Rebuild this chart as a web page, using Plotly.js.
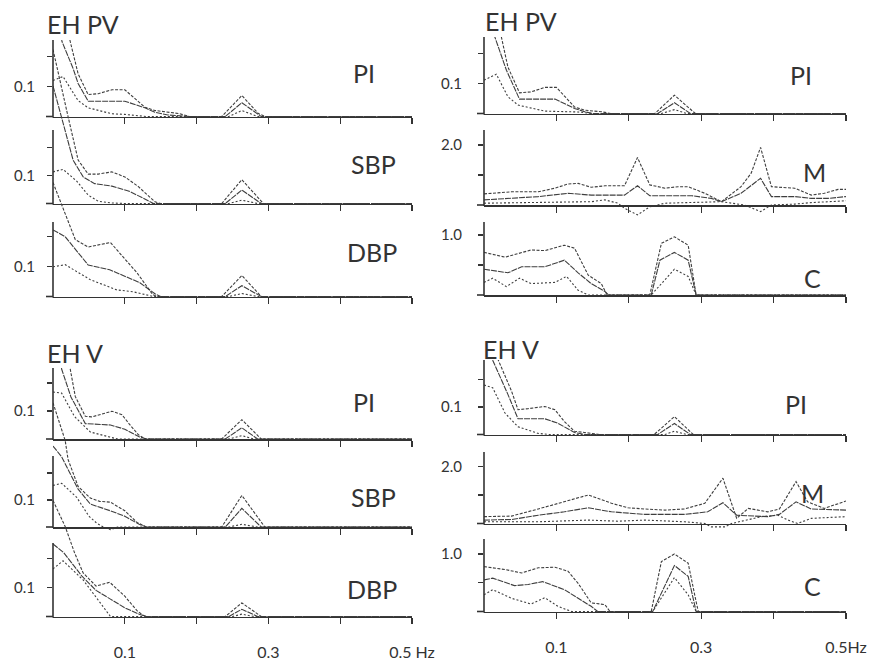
<!DOCTYPE html>
<html><head><meta charset="utf-8">
<script src="https://cdn.plot.ly/plotly-3.0.1.min.js"></script>
<style>html,body{margin:0;padding:0;background:#fff}#chart{width:887px;height:663px}</style>
</head><body><div id="chart"></div>
<script>
// ---------- DATA (frequency in Hz, spectral power) ----------
// EH PV, left column
const pvL_PI_hiX = [0, 0.012, 0.024, 0.035, 0.049, 0.063, 0.082, 0.100, 0.128, 0.142, 0.175, 0.19, 0.235, 0.263, 0.286, 0.295, 0.5];
const pvL_PI_hiY = [0.55, 0.38, 0.25, 0.142, 0.073, 0.076, 0.089, 0.089, 0.031, 0.02, 0.01, 0, 0, 0.07, 0.01, 0, 0];
const pvL_PI_midX = [0, 0.0125, 0.028, 0.035, 0.049, 0.100, 0.128, 0.142, 0.16, 0.19, 0.24, 0.263, 0.29, 0.5];
const pvL_PI_midY = [0.45, 0.25, 0.16, 0.11, 0.051, 0.051, 0.029, 0.014, 0.005, 0, 0, 0.046, 0, 0];
const pvL_PI_loX = [0, 0.014, 0.035, 0.049, 0.082, 0.1, 0.13, 0.245, 0.263, 0.285, 0.5];
const pvL_PI_loY = [0.12, 0.133, 0.053, 0.029, 0.009, 0.007, 0, 0, 0.02, 0, 0];

const pvL_SBP_hiX = [0, 0.01, 0.021, 0.035, 0.049, 0.063, 0.082, 0.1, 0.119, 0.142, 0.15, 0.235, 0.263, 0.293, 0.5];
const pvL_SBP_hiY = [0.55, 0.43, 0.31, 0.155, 0.105, 0.105, 0.113, 0.095, 0.06, 0.006, 0, 0, 0.085, 0, 0];
const pvL_SBP_midX = [0, 0.017, 0.028, 0.042, 0.058, 0.082, 0.105, 0.125, 0.14, 0.24, 0.263, 0.29, 0.5];
const pvL_SBP_midY = [0.42, 0.26, 0.155, 0.095, 0.071, 0.062, 0.045, 0.02, 0, 0, 0.048, 0, 0];
const pvL_SBP_loX = [0, 0.014, 0.033, 0.049, 0.063, 0.082, 0.1, 0.245, 0.263, 0.285, 0.5];
const pvL_SBP_loY = [0.113, 0.122, 0.08, 0.03, 0.008, 0.002, 0, 0, 0.012, 0, 0];

const pvL_DBP_hiX = [0, 0.031, 0.049, 0.08, 0.117, 0.139, 0.145, 0.235, 0.263, 0.29, 0.5];
const pvL_DBP_hiY = [0.38, 0.19, 0.165, 0.18, 0.079, 0.006, 0, 0, 0.07, 0, 0];
const pvL_DBP_midX = [0, 0.017, 0.049, 0.079, 0.121, 0.142, 0.15, 0.24, 0.263, 0.29, 0.5];
const pvL_DBP_midY = [0.222, 0.199, 0.105, 0.089, 0.046, 0.009, 0, 0, 0.036, 0, 0];
const pvL_DBP_loX = [0, 0.017, 0.052, 0.089, 0.111, 0.14, 0.245, 0.263, 0.285, 0.5];
const pvL_DBP_loY = [0.099, 0.106, 0.056, 0.022, 0.016, 0, 0, 0.01, 0, 0];

// EH PV, right column
const pvR_PI_hiX = [0, 0.012, 0.024, 0.033, 0.049, 0.065, 0.084, 0.1, 0.125, 0.139, 0.162, 0.175, 0.236, 0.263, 0.289, 0.292, 0.5];
const pvR_PI_hiY = [0.55, 0.38, 0.255, 0.155, 0.069, 0.072, 0.087, 0.087, 0.022, 0.011, 0.006, 0, 0, 0.061, 0.006, 0, 0];
const pvR_PI_midX = [0, 0.015, 0.031, 0.049, 0.098, 0.125, 0.139, 0.15, 0.24, 0.263, 0.285, 0.5];
const pvR_PI_midY = [0.45, 0.255, 0.144, 0.048, 0.048, 0.017, 0.006, 0, 0, 0.036, 0, 0];
const pvR_PI_loX = [0, 0.017, 0.033, 0.047, 0.084, 0.13, 0.15, 0.245, 0.263, 0.28, 0.5];
const pvR_PI_loY = [0.111, 0.131, 0.056, 0.028, 0.008, 0.005, 0, 0, 0.013, 0, 0];

const pvR_M_hiX = [0, 0.038, 0.075, 0.098, 0.116, 0.13, 0.148, 0.167, 0.194, 0.212, 0.229, 0.25, 0.268, 0.282, 0.305, 0.328, 0.355, 0.369, 0.382, 0.397, 0.429, 0.452, 0.47, 0.489, 0.5];
const pvR_M_hiY = [0.37, 0.44, 0.44, 0.56, 0.7, 0.72, 0.59, 0.64, 0.64, 1.58, 0.67, 0.56, 0.61, 0.61, 0.39, 0.11, 0.61, 1.06, 1.92, 0.61, 0.56, 0.33, 0.39, 0.52, 0.52];
const pvR_M_midX = [0, 0.038, 0.075, 0.116, 0.148, 0.194, 0.212, 0.229, 0.287, 0.314, 0.328, 0.355, 0.382, 0.397, 0.429, 0.452, 0.475, 0.5];
const pvR_M_midY = [0.17, 0.22, 0.28, 0.39, 0.33, 0.33, 0.64, 0.31, 0.31, 0.22, 0.11, 0.39, 0.89, 0.28, 0.28, 0.22, 0.22, 0.28];
const pvR_M_loX = [0, 0.038, 0.075, 0.116, 0.148, 0.167, 0.185, 0.194, 0.212, 0.229, 0.25, 0.291, 0.328, 0.36, 0.382, 0.397, 0.429, 0.452, 0.5];
const pvR_M_loY = [0.06, 0.08, 0.08, 0.1, 0.11, 0.17, 0.06, -0.11, -0.33, -0.06, 0.06, 0.08, 0.11, 0, -0.22, 0, 0.03, 0.08, 0.14];

const pvR_C_hiX = [0, 0.029, 0.065, 0.084, 0.111, 0.125, 0.144, 0.162, 0.17, 0.229, 0.245, 0.263, 0.282, 0.293, 0.5];
const pvR_C_hiY = [0.71, 0.63, 0.75, 0.74, 0.83, 0.78, 0.33, 0.19, 0, 0, 0.86, 0.97, 0.83, 0, 0];
const pvR_C_midX = [0, 0.033, 0.052, 0.084, 0.111, 0.13, 0.148, 0.167, 0.172, 0.231, 0.243, 0.263, 0.282, 0.293, 0.5];
const pvR_C_midY = [0.43, 0.37, 0.47, 0.47, 0.58, 0.37, 0.19, 0.06, 0, 0, 0.58, 0.71, 0.58, 0, 0];
const pvR_C_loX = [0, 0.012, 0.031, 0.049, 0.065, 0.098, 0.114, 0.13, 0.144, 0.231, 0.263, 0.282, 0.293, 0.5];
const pvR_C_loY = [0.21, 0.28, 0.14, 0.28, 0.19, 0.21, 0.31, 0.08, 0, 0, 0.43, 0.31, 0, 0];

// EH V, left column
const vL_PI_hiX = [0, 0.012, 0.024, 0.031, 0.045, 0.054, 0.082, 0.096, 0.107, 0.119, 0.126, 0.13, 0.235, 0.263, 0.29, 0.5];
const vL_PI_hiY = [0.5, 0.35, 0.25, 0.152, 0.081, 0.079, 0.099, 0.087, 0.051, 0.015, 0.004, 0, 0, 0.069, 0, 0];
const vL_PI_midX = [0, 0.012, 0.025, 0.045, 0.08, 0.1, 0.12, 0.13, 0.24, 0.263, 0.285, 0.5];
const vL_PI_midY = [0.4, 0.25, 0.15, 0.055, 0.05, 0.035, 0.008, 0, 0, 0.04, 0, 0];
const vL_PI_loX = [0, 0.012, 0.03, 0.052, 0.079, 0.09, 0.245, 0.263, 0.28, 0.5];
const vL_PI_loY = [0.168, 0.164, 0.08, 0.025, 0.007, 0, 0, 0.012, 0, 0];

const vL_SBP_hiX = [0, 0.017, 0.021, 0.035, 0.052, 0.065, 0.08, 0.1, 0.117, 0.125, 0.13, 0.235, 0.263, 0.295, 0.5];
const vL_SBP_hiY = [0.46, 0.32, 0.25, 0.15, 0.107, 0.095, 0.092, 0.06, 0.017, 0.005, 0, 0, 0.117, 0, 0];
const vL_SBP_midX = [0, 0.012, 0.035, 0.052, 0.08, 0.1, 0.12, 0.13, 0.24, 0.263, 0.29, 0.5];
const vL_SBP_midY = [0.3, 0.26, 0.14, 0.085, 0.06, 0.04, 0.01, 0, 0, 0.069, 0, 0];
const vL_SBP_loX = [0, 0.012, 0.033, 0.05, 0.061, 0.07, 0.08, 0.09, 0.245, 0.263, 0.285, 0.5];
const vL_SBP_loY = [0.154, 0.162, 0.11, 0.04, 0.014, 0, -0.01, 0, 0, 0.01, 0, 0];

const vL_DBP_hiX = [0, 0.017, 0.03, 0.042, 0.06, 0.079, 0.1, 0.117, 0.125, 0.13, 0.24, 0.263, 0.29, 0.5];
const vL_DBP_hiY = [0.4, 0.31, 0.22, 0.15, 0.105, 0.118, 0.07, 0.02, 0.005, 0, 0, 0.047, 0, 0];
const vL_DBP_midX = [0, 0.015, 0.04, 0.06, 0.08, 0.1, 0.12, 0.13, 0.245, 0.263, 0.285, 0.5];
const vL_DBP_midY = [0.25, 0.22, 0.14, 0.09, 0.06, 0.03, 0.008, 0, 0, 0.025, 0, 0];
const vL_DBP_loX = [0, 0.014, 0.042, 0.065, 0.075, 0.08, 0.25, 0.263, 0.28, 0.5];
const vL_DBP_loY = [0.164, 0.192, 0.126, 0.05, 0.013, 0, 0, 0.008, 0, 0];

// EH V, right column
const vR_PI_hiX = [0, 0.01, 0.019, 0.038, 0.047, 0.061, 0.084, 0.098, 0.111, 0.125, 0.144, 0.16, 0.235, 0.263, 0.289, 0.5];
const vR_PI_hiY = [0.5, 0.38, 0.275, 0.158, 0.09, 0.094, 0.102, 0.09, 0.047, 0.012, 0.004, 0, 0, 0.065, 0, 0];
const vR_PI_midX = [0, 0.012, 0.033, 0.047, 0.084, 0.102, 0.125, 0.14, 0.24, 0.263, 0.285, 0.5];
const vR_PI_midY = [0.42, 0.27, 0.146, 0.057, 0.057, 0.041, 0.007, 0, 0, 0.04, 0, 0];
const vR_PI_loX = [0, 0.012, 0.029, 0.047, 0.075, 0.09, 0.25, 0.263, 0.28, 0.5];
const vR_PI_loY = [0.18, 0.17, 0.078, 0.028, 0.004, 0, 0, 0.012, 0, 0];

const vR_M_hiX = [0, 0.038, 0.075, 0.111, 0.144, 0.176, 0.199, 0.222, 0.25, 0.277, 0.305, 0.33, 0.349, 0.365, 0.392, 0.408, 0.431, 0.447, 0.47, 0.5];
const vR_M_hiY = [0.24, 0.26, 0.51, 0.76, 1.0, 0.71, 0.55, 0.51, 0.47, 0.51, 0.71, 1.59, 0.18, 0.53, 0.41, 0.51, 1.47, 0.76, 0.53, 0.79];
const vR_M_midX = [0, 0.038, 0.075, 0.111, 0.144, 0.176, 0.222, 0.277, 0.309, 0.33, 0.349, 0.392, 0.408, 0.431, 0.452, 0.5];
const vR_M_midY = [0.12, 0.14, 0.29, 0.41, 0.55, 0.41, 0.32, 0.32, 0.41, 0.73, 0.29, 0.24, 0.32, 0.76, 0.51, 0.47];
const vR_M_loX = [0, 0.075, 0.144, 0.185, 0.222, 0.277, 0.305, 0.314, 0.333, 0.342, 0.383, 0.406, 0.42, 0.433, 0.452, 0.5];
const vR_M_loY = [0.06, 0.06, 0.12, 0.08, 0.12, 0.06, 0, -0.12, -0.12, 0, 0.24, 0.29, 0.12, 0, 0.18, 0.24];

const vR_C_hiX = [0, 0.029, 0.052, 0.075, 0.098, 0.116, 0.13, 0.148, 0.167, 0.174, 0.231, 0.245, 0.263, 0.282, 0.293, 0.296, 0.5];
const vR_C_hiY = [0.78, 0.73, 0.67, 0.76, 0.77, 0.7, 0.49, 0.15, 0.12, 0, 0, 0.87, 1.0, 0.84, 0.17, 0, 0];
const vR_C_midX = [0, 0.012, 0.042, 0.061, 0.081, 0.111, 0.13, 0.148, 0.157, 0.233, 0.263, 0.282, 0.293, 0.5];
const vR_C_midY = [0.55, 0.58, 0.45, 0.47, 0.52, 0.38, 0.23, 0.09, 0, 0, 0.8, 0.61, 0, 0];
const vR_C_loX = [0, 0.012, 0.038, 0.065, 0.084, 0.102, 0.121, 0.233, 0.263, 0.282, 0.293, 0.5];
const vR_C_loY = [0.29, 0.38, 0.23, 0.13, 0.24, 0.09, 0, 0, 0.59, 0.29, 0, 0];

// tick labels
const xTickVals = [0.1, 0.2, 0.3, 0.4, 0.5];
const xTickTextL = ['0.1', '', '0.3', '', '0.5 Hz'];
const xTickTextR = ['0.1', '', '0.3', '', '0.5Hz'];
const tickPI = [0.1, 0.2], tickPIText = ['0.1', ''];
const tickM = [1, 2], tickMText = ['', '2.0'];
const tickC = [0.5, 1.0], tickCText = ['', '1.0'];
const headings = ['EH PV', 'EH PV', 'EH V', 'EH V'];

// ---------- LAYOUT (pixels) ----------
const W = 887, H = 663;
const FONT = 'Lato, "Open Sans", sans-serif';
const INK = '#333';
const P = py => (H - py) / H;
const colL = [53, 412], colR = [484, 846];

const panels = [
  {col: colL, base: 116.5, scale: 300, top: 40,  ext: 40,  tv: tickPI, tt: tickPIText, label: 'PI',  lx: 364, ly: 73,  bottom: false,
   lines: [[pvL_PI_hiX, pvL_PI_hiY], [pvL_PI_midX, pvL_PI_midY], [pvL_PI_loX, pvL_PI_loY]]},
  {col: colL, base: 203.5, scale: 280, top: 130, ext: 40,  tv: tickPI, tt: tickPIText, label: 'SBP', lx: 373, ly: 164, bottom: false,
   lines: [[pvL_SBP_hiX, pvL_SBP_hiY], [pvL_SBP_midX, pvL_SBP_midY], [pvL_SBP_loX, pvL_SBP_loY]]},
  {col: colL, base: 296.5, scale: 300, top: 222, ext: 130, tv: tickPI, tt: tickPIText, label: 'DBP', lx: 372, ly: 252, bottom: false,
   lines: [[pvL_DBP_hiX, pvL_DBP_hiY], [pvL_DBP_midX, pvL_DBP_midY], [pvL_DBP_loX, pvL_DBP_loY]]},
  {col: colR, base: 113.5, scale: 300, top: 37,  ext: 37,  tv: tickPI, tt: tickPIText, label: 'PI',  lx: 801, ly: 75,  bottom: false,
   lines: [[pvR_PI_hiX, pvR_PI_hiY], [pvR_PI_midX, pvR_PI_midY], [pvR_PI_loX, pvR_PI_loY]]},
  {col: colR, base: 205,   scale: 30,  top: 130, ext: 37,  tv: tickM, tt: tickMText, label: 'M',  lx: 814, ly: 172, bottom: false,
   lines: [[pvR_M_hiX, pvR_M_hiY], [pvR_M_midX, pvR_M_midY], [pvR_M_loX, pvR_M_loY]]},
  {col: colR, base: 295,   scale: 60,  top: 222, ext: 130, tv: tickC, tt: tickCText, label: 'C',  lx: 812, ly: 278, bottom: false,
   lines: [[pvR_C_hiX, pvR_C_hiY], [pvR_C_midX, pvR_C_midY], [pvR_C_loX, pvR_C_loY]]},
  {col: colL, base: 439,   scale: 280, top: 368, ext: 368, tv: tickPI, tt: tickPIText, label: 'PI',  lx: 364, ly: 402, bottom: false,
   lines: [[vL_PI_hiX, vL_PI_hiY], [vL_PI_midX, vL_PI_midY], [vL_PI_loX, vL_PI_loY]]},
  {col: colL, base: 527,   scale: 270, top: 456, ext: 368, tv: tickPI, tt: tickPIText, label: 'SBP', lx: 373, ly: 497, bottom: false,
   lines: [[vL_SBP_hiX, vL_SBP_hiY], [vL_SBP_midX, vL_SBP_midY], [vL_SBP_loX, vL_SBP_loY]]},
  {col: colL, base: 616.5, scale: 290, top: 543, ext: 456, tv: tickPI, tt: tickPIText, label: 'DBP', lx: 372, ly: 589, bottom: true,
   lines: [[vL_DBP_hiX, vL_DBP_hiY], [vL_DBP_midX, vL_DBP_midY], [vL_DBP_loX, vL_DBP_loY]]},
  {col: colR, base: 434.5, scale: 275, top: 360, ext: 360, tv: tickPI, tt: tickPIText, label: 'PI',  lx: 796, ly: 404, bottom: false,
   lines: [[vR_PI_hiX, vR_PI_hiY], [vR_PI_midX, vR_PI_midY], [vR_PI_loX, vR_PI_loY]]},
  {col: colR, base: 523.5, scale: 28.5, top: 452, ext: 360, tv: tickM, tt: tickMText, label: 'M',  lx: 812, ly: 493, bottom: false,
   lines: [[vR_M_hiX, vR_M_hiY], [vR_M_midX, vR_M_midY], [vR_M_loX, vR_M_loY]]},
  {col: colR, base: 611.5, scale: 57.5, top: 539, ext: 452, tv: tickC, tt: tickCText, label: 'C',  lx: 812, ly: 586, bottom: true,
   lines: [[vR_C_hiX, vR_C_hiY], [vR_C_midX, vR_C_midY], [vR_C_loX, vR_C_loY]]}
];

const dashes = ['3px,1.5px', '6px,1px', '2px,2px'];
const traces = [], shapes = [], annotations = [];
const layout = {
  width: W, height: H, margin: {l: 0, r: 0, t: 0, b: 0},
  paper_bgcolor: '#fff', plot_bgcolor: 'rgba(0,0,0,0)', showlegend: false,
  font: {family: FONT, color: INK}
};
const PAD = 12;

panels.forEach((p, i) => {
  const n = i + 1;
  const xa = 'xaxis' + n, ya = 'yaxis' + n;
  const isR = p.col === colR;
  layout[xa] = {
    domain: [p.col[0] / W, p.col[1] / W], range: [0, 0.5], anchor: 'free', position: P(p.base),
    showline: true, linecolor: INK, linewidth: 1.6, ticks: 'outside', ticklen: 6, tickwidth: 1.2, tickcolor: INK,
    tickvals: xTickVals, ticktext: p.bottom ? (isR ? xTickTextR : xTickTextL) : ['', '', '', '', ''],
    tickfont: {family: FONT, size: 16, color: INK}, ticklabelstandoff: 15,
    showgrid: false, zeroline: false, fixedrange: true
  };
  layout[ya] = {
    domain: [P(p.base + PAD), P(p.ext)], range: [-PAD / p.scale, (p.base - p.ext) / p.scale], anchor: 'x' + n,
    showline: false, ticks: 'outside', ticklen: 5, tickwidth: 1.2, tickcolor: INK,
    tickvals: p.tv, ticktext: p.tt, tickfont: {family: FONT, size: 15, color: INK}, ticklabelstandoff: isR ? 13 : 9,
    showgrid: false, zeroline: false, fixedrange: true
  };
  // visible y axis line
  shapes.push({type: 'line', xref: 'paper', yref: 'paper', x0: p.col[0] / W, x1: p.col[0] / W, y0: P(p.base + 1), y1: P(p.top),
    line: {color: INK, width: 1.6}});
  // short overhang of the baseline to the left
  shapes.push({type: 'line', xref: 'paper', yref: 'paper', x0: (p.col[0] - 7) / W, x1: p.col[0] / W, y0: P(p.base), y1: P(p.base),
    line: {color: INK, width: 1.6}});
  p.lines.forEach((ln, k) => {
    traces.push({type: 'scatter', mode: 'lines', x: ln[0], y: ln[1], xaxis: 'x' + n, yaxis: 'y' + n,
      line: {color: '#3e3e3e', width: 1.1, dash: dashes[k]}, hoverinfo: 'skip', showlegend: false});
  });
  annotations.push({xref: 'paper', yref: 'paper', x: p.lx / W, y: P(p.ly), text: p.label, showarrow: false,
    xanchor: 'center', yanchor: 'middle', font: {family: FONT, size: 25, color: INK}});
});

[[45, 24, headings[0]], [483, 21, headings[1]], [45, 353, headings[2]], [481, 349, headings[3]]].forEach(h => {
  annotations.push({xref: 'paper', yref: 'paper', x: h[0] / W, y: P(h[1]), text: h[2], showarrow: false,
    xanchor: 'left', yanchor: 'middle', font: {family: FONT, size: 25, color: INK}});
});

layout.shapes = shapes;
layout.annotations = annotations;
Plotly.newPlot('chart', traces, layout, {displayModeBar: false, staticPlot: true});
</script>
</body></html>
